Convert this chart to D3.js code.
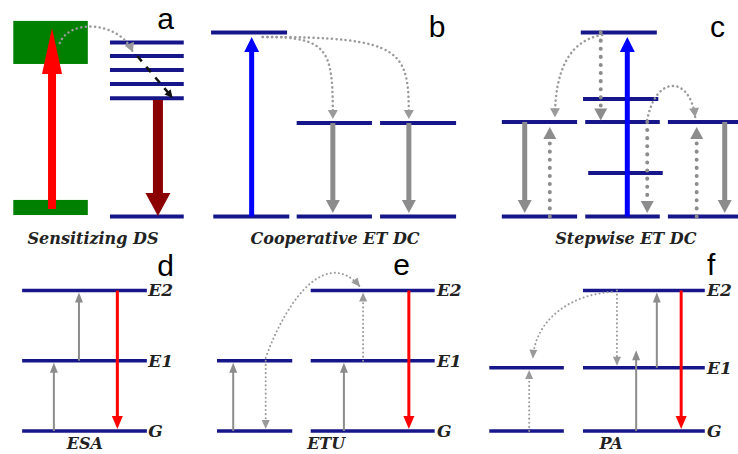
<!DOCTYPE html>
<html>
<head>
<meta charset="utf-8">
<script src="https://cdn.jsdelivr.net/npm/d3@7"></script>
<style>
  html, body { margin: 0; padding: 0; background: #fff; }
  svg { display: block; }
  .serif { font-family: "DejaVu Serif", serif; font-style: italic; font-weight: 700; }
</style>
</head>
<body>
<svg id="chart" width="738" height="454"></svg>
<script>
// ---------- DATA (x in % of width, energies in row units) ----------
// top row energy: 0 = ground, 100 = highest level
const topLevels = [
  // panel a (acceptor ladder)
  [14.9, 24.9, 94.5], [14.9, 24.9, 87.2], [14.9, 24.9, 79.6], [14.9, 24.9, 72.0], [14.9, 24.9, 64.2], [14.9, 24.9, 0],
  // panel b
  [28.6, 38.9, 100], [40.2, 50.4, 50.8], [51.5, 61.8, 50.8], [28.9, 39.2, 0], [40.2, 50.4, 0], [51.5, 61.8, 0],
  // panel c
  [78.7, 89.0, 100], [79.0, 89.2, 63.9], [68.0, 78.2, 51.4], [79.3, 89.4, 51.4], [90.5, 100, 51.4],
  [79.7, 89.8, 23.6], [68.0, 78.2, 0], [79.3, 89.4, 0], [90.5, 100, 0]
];
// sensitizer bands in panel a: [x0, x1, eLow, eHigh]
const sensitizerBands = [
  [1.8, 11.9, 82.9, 106.3],
  [1.8, 11.9, 0.8, 9.0]
];
// bottom row energy: G = 0, E1 = 1, E2 = 2
const bottomLevels = [
  // panel d
  [3.0, 19.9, 2], [3.0, 19.9, 1], [3.0, 19.9, 0],
  // panel e
  [29.4, 39.6, 1], [29.4, 39.6, 0], [42.1, 58.9, 2], [42.1, 58.9, 1], [42.1, 58.9, 0],
  // panel f
  [66.3, 76.4, 0.9], [66.3, 76.4, 0], [79.0, 95.5, 2], [79.0, 95.5, 0.9], [79.0, 95.5, 0]
];
// vertical transitions: [x, fromEnergy, toEnergy, kind]
const topArrows = [
  [7.05, 4.1, 102.4, "pump"],
  [21.4, 63.3, 0.3, "emitDark"],
  [34.1, 0, 97.5, "blue"],
  [45.1, 50.8, 1.9, "gray"],
  [55.4, 50.8, 1.9, "gray"],
  [85.0, 0, 97.5, "blue"],
  [71.1, 51.4, 1.9, "gray"],
  [98.2, 51.4, 1.9, "gray"],
  [74.5, 0, 48.6, "grayDot"],
  [94.4, 0, 48.6, "grayDot"],
  [81.4, 100, 52.2, "grayDot"],
  [87.7, 51.4, 1.9, "grayDot"]
];
const bottomArrows = [
  [7.3, 0, 0.97, "thinGray"],
  [10.7, 1, 1.97, "thinGray"],
  [15.9, 2, 0.03, "thinRed"],
  [31.6, 0, 0.97, "thinGray"],
  [36.0, 1, 0.03, "thinDot"],
  [46.6, 0, 0.97, "thinGray"],
  [49.2, 1, 1.97, "thinDot"],
  [55.4, 2, 0.03, "thinRed"],
  [71.7, 0, 0.87, "thinDot"],
  [83.6, 2, 0.93, "thinDot"],
  [86.2, 0, 1.15, "thinGray"],
  [89.0, 0.9, 1.97, "thinGray"],
  [92.3, 2, 0.03, "thinRed"]
];
// energy-transfer paths: cubic curves [start, c1, c2, end] as [x, energy]
const topCurves = [
  [[[8.1, 94.3], [9.5, 107.9], [16.3, 105.7], [18.0, 89.4]], "curveDot"],
  [[[18.6, 87.2], [20.2, 79.6], [21.8, 72.0], [23.4, 64.4]], "blackDash"],
  [[[35.6, 97.6], [44.7, 97.6], [45.1, 90.5], [45.1, 53.0]], "curveDot"],
  [[[35.6, 97.6], [54.9, 97.6], [55.4, 90.5], [55.4, 53.0]], "curveDot"],
  [[[81.6, 98.6], [77.2, 95.9], [75.2, 79.6], [75.2, 54.0]], "curveDot"],
  [[[87.7, 52.4], [88.8, 76.9], [93.5, 76.9], [94.2, 54.0]], "curveDot"]
];
const bottomCurves = [
  [[[36.0, 1.04], [39.3, 2.0], [44.7, 2.58], [48.8, 2.05]], "thinDot"],
  [[[82.9, 1.98], [77.2, 1.94], [72.5, 1.58], [72.2, 1.03]], "thinDot"]
];
// texts
const panelLetters = [
  ["a", 21.3, 101.9, "top"], ["b", 58.1, 97.6, "top"], ["c", 96.2, 97.6, "top"],
  ["d", 21.3, 2.21, "bottom"], ["e", 53.3, 2.22, "bottom"], ["f", 95.8, 2.22, "bottom"]
];
const captions = [
  ["Sensitizing DS", 12.6, -14.9, "top"],
  ["Cooperative ET DC", 45.4, -14.9, "top"],
  ["Stepwise ET DC", 84.8, -14.9, "top"],
  ["ESA", 11.5, -0.256, "bottom"],
  ["ETU", 44.2, -0.256, "bottom"],
  ["PA", 82.8, -0.256, "bottom"]
];
const levelLabels = [
  ["E2", 20.1, 2], ["E1", 20.1, 1], ["G", 20.1, 0],
  ["E2", 59.2, 2], ["E1", 59.2, 1], ["G", 59.2, 0],
  ["E2", 95.8, 2], ["E1", 95.8, 0.9], ["G", 95.8, 0]
];

// ---------- STYLES ----------
const kinds = {
  pump:      { color: "#ff0000", w: 8,   hw: 20, hl: 46 },
  emitDark:  { color: "#8b0000", w: 10,  hw: 25, hl: 23 },
  blue:      { color: "#0000ff", w: 5,   hw: 15, hl: 15 },
  gray:      { color: "#8c8c8c", w: 5,   hw: 14, hl: 13 },
  grayDot:   { color: "#8c8c8c", w: 4,   hw: 13, hl: 12, dash: "0.1,8" },
  curveDot:  { color: "#9a9a9a", w: 2.5, hw: 10, hl: 9,  dash: "0.1,4.5" },
  blackDash: { color: "#111111", w: 2.5, hw: 8,  hl: 8,  dash: "7,7" },
  thinGray:  { color: "#8c8c8c", w: 2,   hw: 8,  hl: 10 },
  thinRed:   { color: "#ff0000", w: 3,   hw: 11, hl: 13 },
  thinDot:   { color: "#9a9a9a", w: 2,   hw: 8,  hl: 9,  dash: "0.1,4" }
};
const levelColor = "#16168a";

// ---------- SCALES ----------
const W = 738, H = 454;
const x = d3.scaleLinear().domain([0, 100]).range([0, W]);
const yTop = d3.scaleLinear().domain([0, 100]).range([216.5, 32.5]);
const yBot = d3.scaleLinear().domain([0, 2]).range([431, 290.5]);
const yRow = r => (r === "top" ? yTop : yBot);

const svg = d3.select("#chart");

// bands
svg.append("g").selectAll("rect").data(sensitizerBands).join("rect")
  .attr("x", d => x(d[0])).attr("width", d => x(d[1]) - x(d[0]))
  .attr("y", d => yTop(d[3])).attr("height", d => yTop(d[2]) - yTop(d[3]))
  .attr("fill", "#008000");

// levels
function drawLevels(data, y, sw) {
  svg.append("g").selectAll("line").data(data).join("line")
    .attr("x1", d => x(d[0])).attr("x2", d => x(d[1]))
    .attr("y1", d => y(d[2])).attr("y2", d => y(d[2]))
    .attr("stroke", levelColor).attr("stroke-width", sw);
}
drawLevels(topLevels, yTop, 4);
drawLevels(bottomLevels, yBot, 3.5);

const gMarks = svg.append("g");

function head(tip, dir, st) {
  const bx = tip[0] - dir[0] * st.hl, by = tip[1] - dir[1] * st.hl;
  const px = -dir[1] * st.hw / 2, py = dir[0] * st.hw / 2;
  gMarks.append("path")
    .attr("d", `M${tip[0]},${tip[1]}L${bx + px},${by + py}L${bx - px},${by - py}Z`)
    .attr("fill", st.color);
}
function styleStroke(sel, st) {
  sel.attr("fill", "none").attr("stroke", st.color).attr("stroke-width", st.w);
  if (st.dash) {
    sel.attr("stroke-dasharray", st.dash);
    if (st.dash.startsWith("0.1")) sel.attr("stroke-linecap", "round");
  }
}
function drawArrows(data, y) {
  data.forEach(([ax, from, to, kind]) => {
    const st = kinds[kind];
    const tail = [x(ax), y(from)], tip = [x(ax), y(to)];
    const len = Math.hypot(tip[0] - tail[0], tip[1] - tail[1]);
    const dir = [(tip[0] - tail[0]) / len, (tip[1] - tail[1]) / len];
    const endS = [tip[0] - dir[0] * st.hl * 0.85, tip[1] - dir[1] * st.hl * 0.85];
    const ln = gMarks.append("line")
      .attr("x1", tail[0]).attr("y1", tail[1]).attr("x2", endS[0]).attr("y2", endS[1]);
    styleStroke(ln, st);
    head(tip, dir, st);
  });
}
function drawCurves(data, y) {
  data.forEach(([pts, kind]) => {
    const st = kinds[kind];
    const p = pts.map(q => [x(q[0]), y(q[1])]);
    const path = d3.path();
    path.moveTo(p[0][0], p[0][1]);
    path.bezierCurveTo(p[1][0], p[1][1], p[2][0], p[2][1], p[3][0], p[3][1]);
    const pe = gMarks.append("path").attr("d", path.toString());
    styleStroke(pe, st);
    const dx = p[3][0] - p[2][0], dy = p[3][1] - p[2][1], l = Math.hypot(dx, dy);
    head(p[3], [dx / l, dy / l], st);
  });
}
drawCurves(topCurves, yTop);
drawCurves(bottomCurves, yBot);
drawArrows(topArrows, yTop);
drawArrows(bottomArrows, yBot);

// texts
svg.append("g").selectAll("text").data(panelLetters).join("text")
  .attr("x", d => x(d[1])).attr("y", d => yRow(d[3])(d[2]))
  .attr("font-family", "'Liberation Sans', Arial, sans-serif")
  .attr("font-size", 30).attr("fill", "#000").text(d => d[0]);

svg.append("g").selectAll("text").data(captions).join("text")
  .attr("class", "serif")
  .attr("x", d => x(d[1])).attr("y", d => yRow(d[3])(d[2]))
  .attr("text-anchor", "middle")
  .attr("font-size", 16).attr("fill", "#222").text(d => d[0]);

svg.append("g").selectAll("text").data(levelLabels).join("text")
  .attr("class", "serif")
  .attr("x", d => x(d[1])).attr("y", d => yBot(d[2]))
  .attr("dy", "0.35em")
  .attr("font-size", 17).attr("fill", "#222").text(d => d[0]);
</script>
</body>
</html>
